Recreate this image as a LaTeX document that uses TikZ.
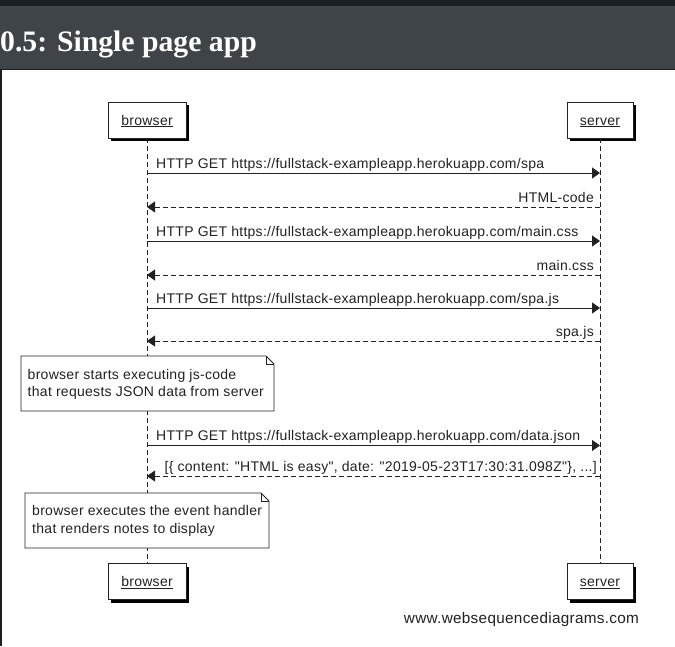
\documentclass[tikz,border=0pt]{standalone}
\usepackage{fontspec}
\setmainfont{Liberation Sans}
\newfontfamily\diag{Liberation Sans}[LetterSpace=2]
\newfontfamily\ttlfont{Liberation Serif}
\usetikzlibrary{arrows.meta,shadows}
\definecolor{topbar}{HTML}{1B1F21}
\definecolor{headbar}{HTML}{3E4447}
\definecolor{ink}{HTML}{222222}
\tikzset{
  actor/.style={draw=ink, line width=0.9pt, fill=white, minimum height=36pt, inner sep=0pt,
    text height=10pt, text depth=0pt,
    font={\diag\fontsize{14}{16}\selectfont}, text=ink,
    drop shadow={shadow xshift=3pt, shadow yshift=-3pt, fill=black, opacity=1}},
  lifeline/.style={draw=ink, line width=0.9pt, dash pattern=on 5pt off 3pt},
  req/.style={draw=ink, line width=0.9pt, -{Triangle[length=8pt,width=11pt]}},
  resp/.style={draw=ink, line width=0.9pt, dash pattern=on 5pt off 3pt, -{Triangle[length=8pt,width=11pt]}},
  msglabel/.style={font={\diag\fontsize{14}{16}\selectfont}, text=ink, inner sep=0pt},
  notetext/.style={inner sep=0pt, align=left, anchor=west,
    font={\diag\fontsize{14}{17.5}\selectfont}, text=ink},
  noteline/.style={draw=ink, fill=white, line width=0.9pt}
}
\begin{document}
\begin{tikzpicture}[x=1pt,y=-1pt]
\useasboundingbox (0,0) rectangle (675,646);
% page background
\fill[white] (0,0) rectangle (675,646);
\fill[headbar] (0,0) rectangle (675,69);
\fill[topbar] (0,0) rectangle (675,6);
\fill[topbar] (0,68.5) rectangle (675,70);
\fill[topbar] (0,69) rectangle (2.3,646);
\node[anchor=base west, inner sep=0pt, text=white, font={\ttlfont\bfseries\fontsize{29.7}{34}\selectfont}] (title) at (0,51.7) {0.5: Single page app};

% participants
\node[actor, minimum width=78pt] (bt) at (147,120) {\underline{browser}};
\node[actor, minimum width=66pt] (st) at (600,120) {\underline{server}};
\node[actor, minimum width=78pt] (bb) at (147,581.5) {\underline{browser}};
\node[actor, minimum width=66pt] (sb) at (600,581.5) {\underline{server}};

% lifelines
\draw[lifeline] (bt.south) -- (bb.north);
\draw[lifeline] (st.south) -- (sb.north);

% message anchor points
\foreach \i/\y in {1/173,2/207,3/241,4/275,5/308,6/341,7/445.5,8/476}{
  \coordinate (b\i) at (147,\y);
  \coordinate (s\i) at (600,\y);
}

\draw[req] (b1) -- (s1);
\path (b1) ++(9,-4.8) node[msglabel, anchor=base west] (m1) {HTTP GET https://fullstack-exampleapp.herokuapp.com/spa};
\draw[resp] (s2) -- (b2);
\path (s2) ++(-6,-4.3) node[msglabel, anchor=base east] (m2) {HTML-code};
\draw[req] (b3) -- (s3);
\path (b3) ++(9,-4.8) node[msglabel, anchor=base west] (m3) {HTTP GET https://fullstack-exampleapp.herokuapp.com/main.css};
\draw[resp] (s4) -- (b4);
\path (s4) ++(-6,-4.3) node[msglabel, anchor=base east] (m4) {main.css};
\draw[req] (b5) -- (s5);
\path (b5) ++(9,-4.8) node[msglabel, anchor=base west] (m5) {HTTP GET https://fullstack-exampleapp.herokuapp.com/spa.js};
\draw[resp] (s6) -- (b6);
\path (s6) ++(-6,-4.3) node[msglabel, anchor=base east] (m6) {spa.js};

% note 1
\draw[noteline] (21,411) -- (21,356) -- (266,356) -- (274,364) -- (274,411) -- cycle;
\draw[noteline, fill=none] (266,356) |- (274,364);
\node[notetext] (n1) at (27.5,384.3)
  {browser starts executing js-code\\that requests JSON data from server};

\draw[req] (b7) -- (s7);
\path (b7) ++(9,-4.8) node[msglabel, anchor=base west] (m7) {HTTP GET https://fullstack-exampleapp.herokuapp.com/data.json};
\draw[resp] (s8) -- (b8);
\path (s8) ++(-3,-4.3) node[msglabel, anchor=base east] (m8) {[\{ content: "HTML is easy", date: "2019-05-23T17:30:31.098Z"\}, ...]};

% note 2
\draw[noteline] (25,548) -- (25,493) -- (261,493) -- (269,501) -- (269,548) -- cycle;
\draw[noteline, fill=none] (261,493) |- (269,501);
\node[notetext] (n2) at (32,521)
  {browser executes the event handler\\that renders notes to display};

% footer
\node[msglabel, font={\diag\fontsize{15.3}{17}\selectfont}] (foot) at (521.5,620) {www.websequencediagrams.com};
\end{tikzpicture}
\end{document}
